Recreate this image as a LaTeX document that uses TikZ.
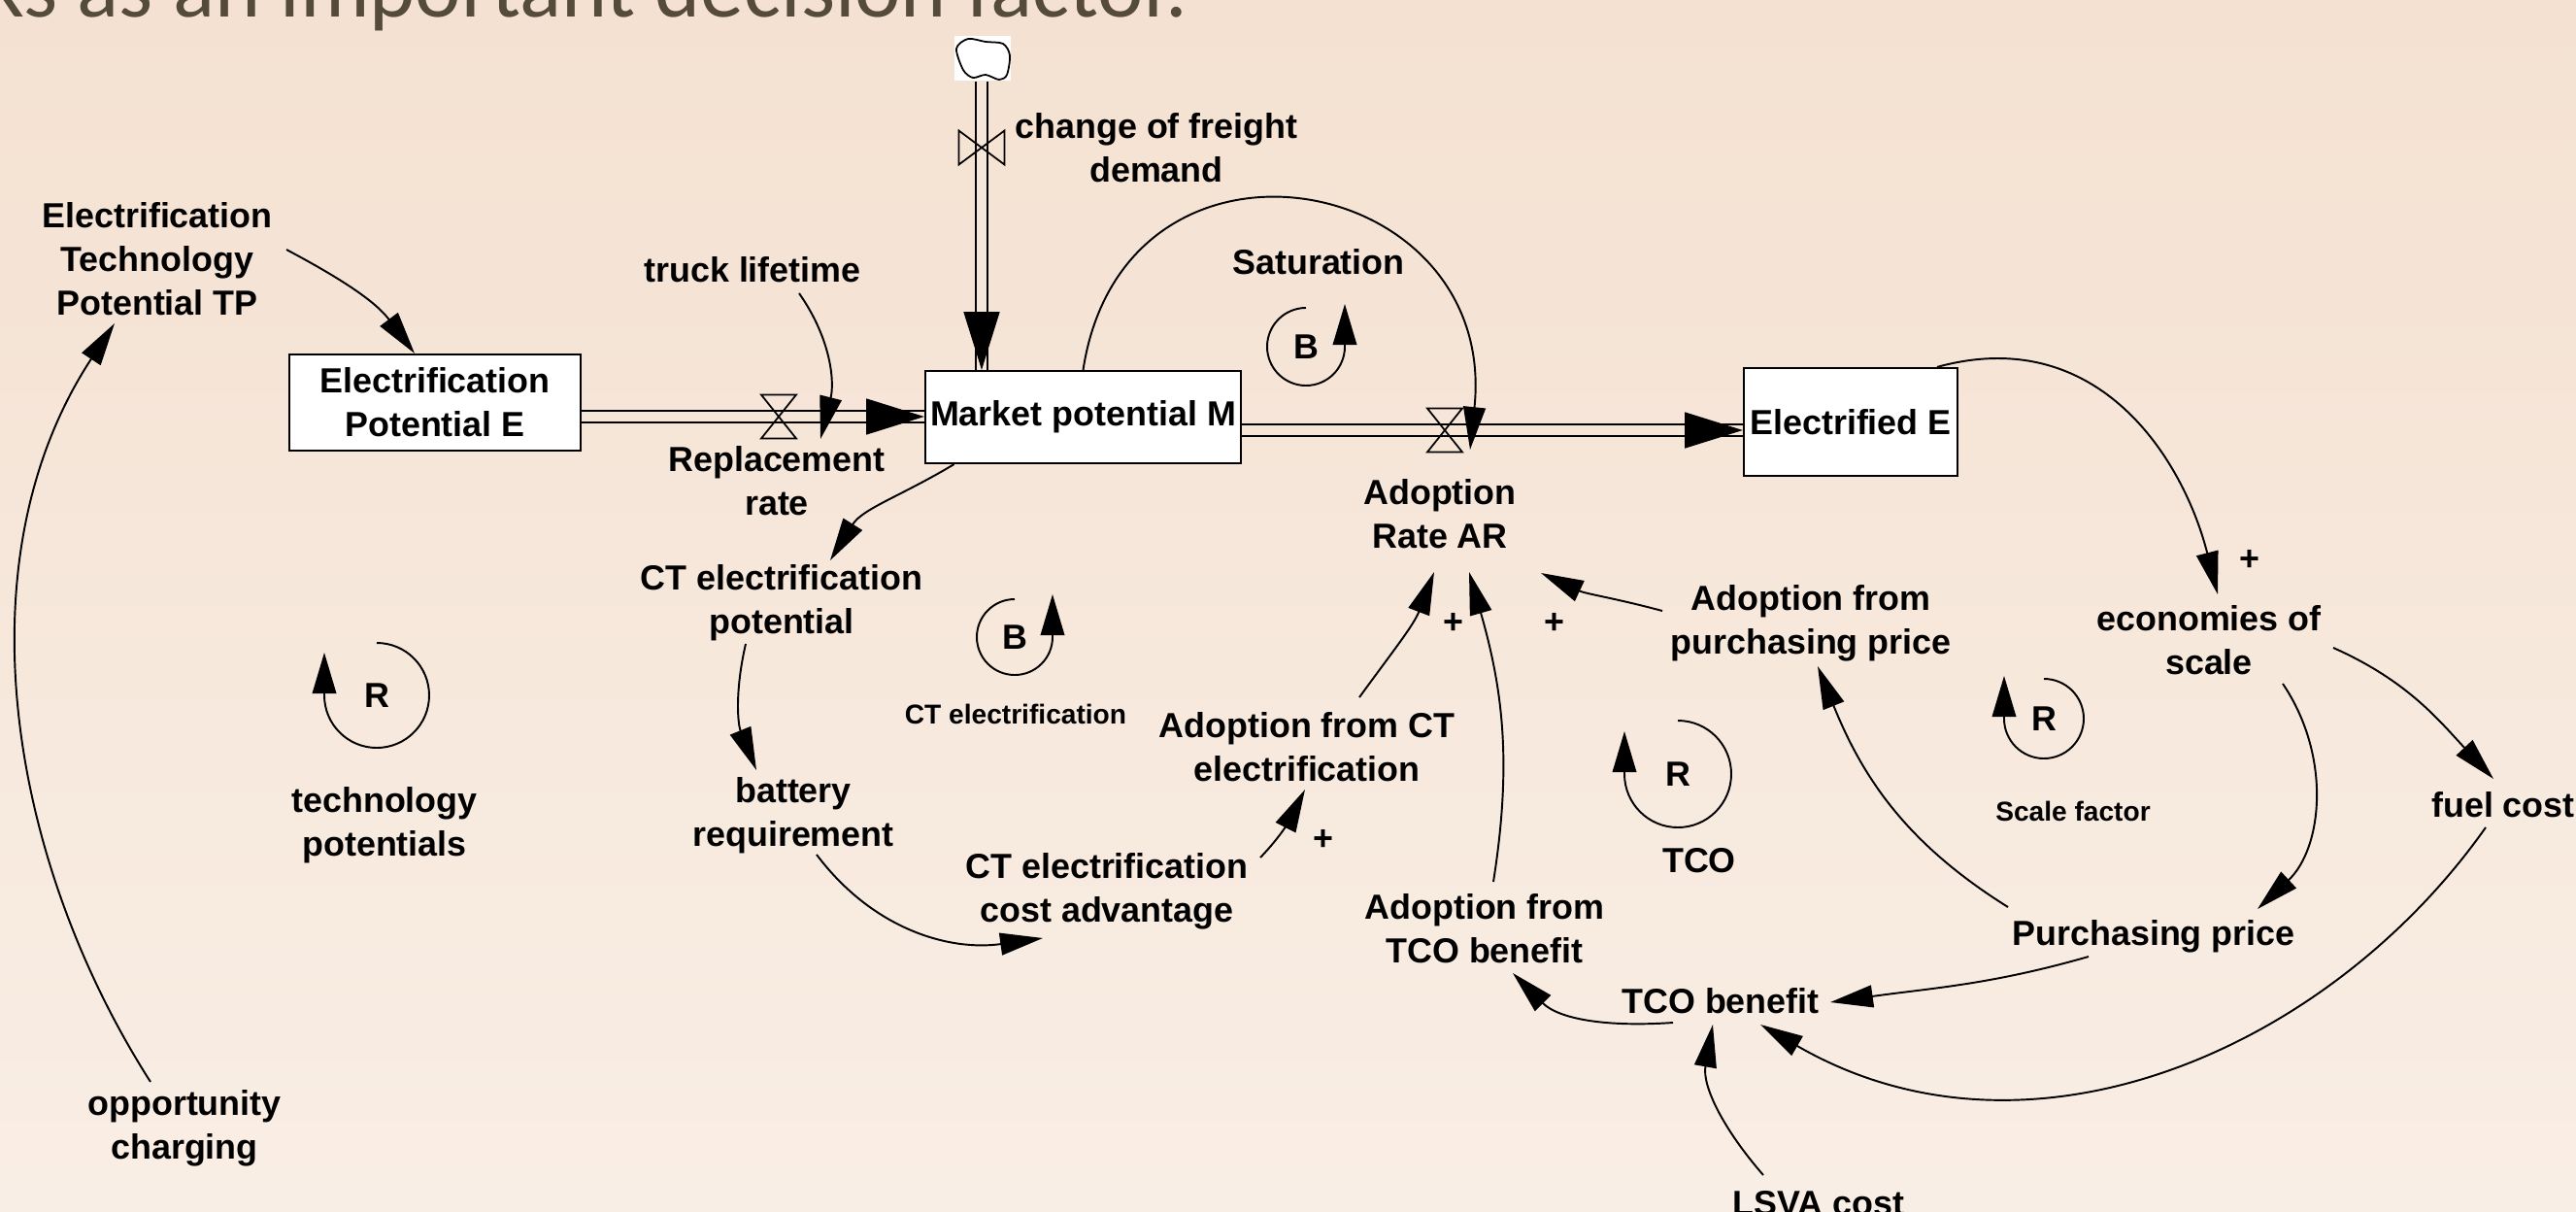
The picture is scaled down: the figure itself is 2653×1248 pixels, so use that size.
\documentclass[tikz,border=0pt]{standalone}
\usepackage{fontspec}
\setmainfont{Liberation Sans}
\newfontfamily\titlefont{Carlito}
\usetikzlibrary{arrows.meta}

\definecolor{bgtop}{RGB}{244,225,209}
\definecolor{bgbot}{RGB}{249,238,229}
\definecolor{bgmid}{RGB}{246,230,216}
\definecolor{titlegray}{RGB}{84,75,58}

\newcommand{\varfont}{\fontsize{10.2}{12.8}\selectfont\bfseries}
\newcommand{\smallvarfont}{\fontsize{8}{10}\selectfont\bfseries}

\tikzset{
  vvalve/.pic={\draw[line width=0.5pt] (-18,22.5) -- (18,22.5) -- (-18,-22.5) -- (18,-22.5) -- cycle;},
  hvalve/.pic={\draw[line width=0.5pt] (-23.5,17.5) -- (-23.5,-17.5) -- (23.5,17.5) -- (23.5,-17.5) -- cycle;},
  pics/bloop/.style={code={
    \draw[loopline] (0,#1) arc[start angle=90, end angle=360, radius=#1] -- ++(0,44);
    \node[var] (-l) at (0,0) {B};
  }},
  pics/rloop/.style={code={
    \draw[loopline] (0,#1) arc[start angle=90, end angle=-180, radius=#1] -- ++(0,44);
    \node[var] (-l) at (0,0) {R};
  }}
}

\begin{document}
\begin{tikzpicture}[
x=0.01cm, y=0.01cm,
var/.style={align=center, font=\varfont, inner sep=0pt},
smallvar/.style={align=center, font=\smallvarfont, inner sep=0pt},
stock/.style={draw, fill=white, line width=0.6pt, align=center, font=\varfont, inner sep=0pt},
link/.style={line width=0.55pt, -{Triangle[length=12.5pt,width=6.5pt]}},
pipe/.style={line width=0.55pt, double=bgmid, double distance=2.85pt},
pipehead/.style={line width=0.5pt, -{Triangle[length=17pt,width=10.5pt]}},
loopline/.style={line width=0.55pt, -{Triangle[length=12pt,width=7pt]}},
title/.style={font=\titlefont\fontsize{25.5}{30}\selectfont, text=titlegray, inner sep=0pt},
cloudbox/.style={fill=white, minimum width=0.57cm, minimum height=0.46cm, inner sep=0pt}
]

\useasboundingbox (0,0) rectangle (2653,-1248);
\shade[top color=bgtop, bottom color=bgbot] (0,0) rectangle (2653,-1248);
\clip (0,0) rectangle (2653,-1248);

\node[title, anchor=base west] (ttl) at (-16,-17) {ks as an important decision factor.};

% stocks
\node[stock, minimum width=3cm, minimum height=0.99cm] (EP) at (448,-414.5) {Electrification\\Potential E};
\node[stock, minimum width=3.25cm, minimum height=0.95cm] (MP) at (1115.5,-429.5) {Market potential M};
\node[stock, minimum width=2.2cm, minimum height=1.11cm] (EL) at (1906,-434.5) {Electrified E};

% source cloud
\node[cloudbox] (src) at (1012,-60) {};
\draw[line width=0.5pt] plot[smooth cycle] coordinates {(997,-40) (1015,-43) (1033,-45) (1040,-57) (1037,-77) (1029,-82) (1015,-77) (1002,-80) (992,-72) (985,-50)};

% valves
\coordinate (FDv) at (1011,-152);
\coordinate (RRv) at (802,-429);
\coordinate (ARv) at (1488,-443);
\coordinate (mptop) at (FDv |- MP.north);
\coordinate (mpin) at (MP.west |- RRv);
\coordinate (elin) at (EL.west |- ARv);

% flows
\draw[pipe] (FDv |- src.south) -- (mptop);
\draw[pipehead] ([shift={(0,60)}]mptop) -- (mptop);
\draw[pipe] (EP.east |- RRv) -- (mpin);
\draw[pipehead] ([shift={(-60,0)}]mpin) -- (mpin);
\draw[pipe] (MP.east |- ARv) -- (elin);
\draw[pipehead] ([shift={(-60,0)}]elin) -- (elin);
\pic at (FDv) {hvalve};
\pic at (RRv) {vvalve};
\pic at (ARv) {vvalve};

% variables
\node[var] (TP) at (162,-267) {Electrification\\Technology\\Potential TP};
\node[var] (TL) at (775,-278) {truck lifetime};
\node[var] (RR) at (800,-495) {Replacement\\rate};
\node[var] (FD) at (1191,-152) {change of freight\\demand};
\node[var] (SAT) at (1358,-270) {Saturation};
\node[var] (AR) at (1483,-529) {Adoption\\Rate AR};
\node[var] (CTP) at (805,-621) {CT electrification\\potential};
\node[var] (BR) at (817,-840) {battery\\requirement};
\node[var] (CTA) at (1140,-918) {CT electrification\\cost advantage};
\node[var] (ACT) at (1346,-769) {Adoption from CT\\electrification};
\node[var] (ATCO) at (1529,-956) {Adoption from\\TCO benefit};
\node[var] (TCOB) at (1772,-1031) {TCO benefit};
\node[var] (APP) at (1865,-642) {Adoption from\\purchasing price};
\node[var] (EOS) at (2275,-659) {economies of\\scale};
\node[var] (FC) at (2578,-829) {fuel cost};
\node[var] (PP) at (2218,-964) {Purchasing price};
\node[var, anchor=base] (LSVA) at (1873,-1251) {LSVA cost};
\node[var] (TECH) at (396,-850) {technology\\potentials};
\node[var] (OC) at (190,-1162) {opportunity\\charging};
\node[var] (TCOl) at (1750,-886) {TCO};
\node[smallvar] (CTl) at (1046,-735) {CT electrification};
\node[smallvar] (SFl) at (2135,-835) {Scale factor};

% polarities
\node[var] (pl1) at (1363,-865) {+};
\node[var] (pl2) at (1497,-642) {+};
\node[var] (pl3) at (1601,-642) {+};
\node[var] (pl4) at (2317,-577) {+};

% loops
\pic (satB) at (1345,-357) {bloop=40};
\pic (ctB) at (1045,-656) {bloop=39};
\pic (techR) at (388,-716) {rloop=54};
\pic (tcoR) at (1728,-797) {rloop=55};
\pic (scaleR) at (2105,-740) {rloop=41};

% links
\draw[link] ([shift={(133,10)}]TP.center) to[out=-28,in=127] ([shift={(-21,0)}]EP.north);
\draw[link] ([shift={(48,-24)}]TL.center) to[out=-55,in=76] ([shift={(43,-23)}]RRv);
\draw[link] ([shift={(-133,0)}]MP.south) to[out=211,in=58] ([shift={(50,44)}]CTP.center);
\draw[link] ([shift={(-37,-42)}]CTP.center) to[out=-103,in=112] ([shift={(-38,47)}]BR.center);
\draw[link] ([shift={(24,-40)}]BR.center) to[out=-53,in=188] ([shift={(-66,-48)}]CTA.center);
\draw[link] ([shift={(158,35)}]CTA.center) to[out=46,in=243] ([shift={(-2,-44)}]ACT.center);
\draw[link] ([shift={(54,51)}]ACT.center) to[out=54,in=249] ([shift={(-6,-60)}]AR.center);
\draw[link] ([shift={(9,48)}]ATCO.center) to[out=81,in=-74] ([shift={(30,-60)}]AR.center);
\draw[link] ([shift={(-153,13)}]APP.center) to[out=165,in=-25] ([shift={(104,-61)}]AR.center);
\draw[link] ([shift={(-150,30)}]PP.center) to[out=148,in=-68] ([shift={(7,-44)}]APP.center);
\draw[link] ([shift={(-67,-21)}]PP.center) to[out=196,in=8] ([shift={(113,-1)}]TCOB.center);
\draw[link] ([shift={(-18,-23)}]FC.center) .. controls (2400,-1079) and (2091,-1216) .. ([shift={(41,-24)}]TCOB.center);
\draw[link] ([shift={(128,-8)}]EOS.center) to[out=-24,in=133] ([shift={(-10,27)}]FC.center);
\draw[link] ([shift={(89,0)}]EL.north) .. controls (2162,-332) and (2249,-474) .. ([shift={(9,47)}]EOS.center);
\draw[link] ([shift={(76,-45)}]EOS.center) to[out=-56,in=43] ([shift={(107,28)}]PP.center);
\draw[link] ([shift={(-57,41)}]LSVA.base) to[out=131,in=260] ([shift={(-8,-24)}]TCOB.center);
\draw[link] ([shift={(-49,-22)}]TCOB.center) to[out=184,in=-45] ([shift={(29,-46)}]ATCO.center);
\draw[link] ([shift={(-35,48)}]OC.center) .. controls (8,-884) and (-41,-575) .. ([shift={(-44,-66)}]TP.center);
\draw[link] (MP.north) .. controls (1158,-104) and (1544,-175) .. ([shift={(26,-20)}]ARv);

\end{tikzpicture}
\end{document}
